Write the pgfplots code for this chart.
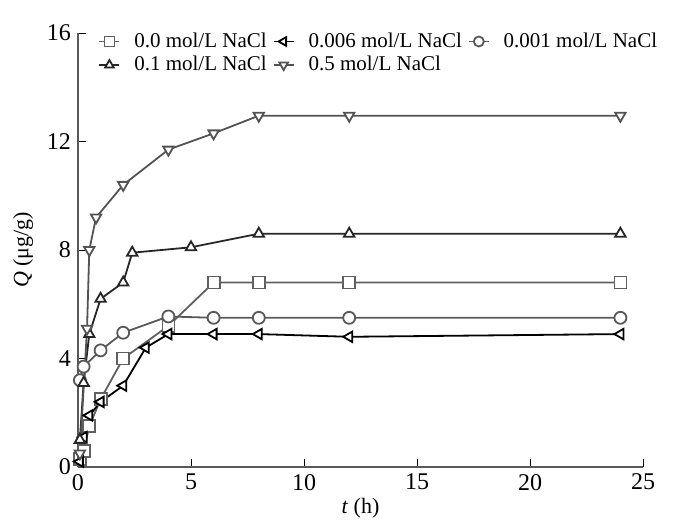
\documentclass[border=0pt]{standalone}
\usepackage{fontspec}
\setmainfont{Liberation Serif}
\usepackage{pgfplots}
\pgfplotsset{compat=1.18}

\begin{document}
\begin{tikzpicture}[font=\fontsize{11}{13}\selectfont]
% fixed page frame, 1 px of the reference = 0.5pt
\path[use as bounding box] (-39pt,-30.5pt) rectangle (311pt,233.5pt);
\begin{axis}[scale only axis, width=282.5pt, height=217pt,
	xmin=0, xmax=25, ymin=0, ymax=16,
	axis lines=left, axis line style={-, gray!70!black, line width=0.8pt},
	xtick={0,5,...,25}, ytick={0,4,...,16},
	tick align=inside, major tick length=4pt, tick style={black},
	/pgf/number format/assume math mode=true,
	tick label style={font=\fontsize{12}{14}\selectfont},
	xlabel={\textit{t} (h)}, ylabel={\textit{Q} (μg/g)},
	xlabel style={yshift=3pt}, ylabel style={yshift=0pt},
	every axis plot/.append style={line width=0.9pt, mark size=3pt},
	legend columns=3, legend cell align=left,
	legend style={draw=none, fill=none, at={(0.025,1.02)}, anchor=north west,
		font=\fontsize{10.5}{12}\selectfont, column sep=5pt, row sep=-1pt,
		/tikz/every even column/.append style={column sep=1pt}},
	legend image code/.code={
		\draw[#1, mark size=2.5pt, mark repeat=2, mark phase=2]
			plot coordinates {(0pt,0pt) (5pt,0pt) (10pt,0pt)};}
	]
% 0.0 mol/L
\addplot[gray!75!black, mark=square*, mark options={fill=white, solid}] coordinates {
	(0.083,0.3) (0.25,0.6) (0.5,1.5) (1,2.5) (2,4.0) (4,5.2) (6,6.8) (8,6.8) (12,6.8) (24,6.8)};
\addlegendentry{0.0 mol/L NaCl}
% 0.006 mol/L
\addplot[black, mark=triangle*, mark options={fill=white, rotate=90}] coordinates {
	(0.083,0.2) (0.25,1.1) (0.5,1.9) (1,2.4) (2,3.0) (3,4.4) (4,4.9) (6,4.9) (8,4.9) (12,4.8) (24,4.9)};
\addlegendentry{0.006 mol/L NaCl}
% 0.001 mol/L
\addplot[gray!70!black, mark=*, mark options={fill=white}] coordinates {
	(0.083,3.2) (0.25,3.7) (1,4.3) (2,4.95) (4,5.55) (6,5.5) (8,5.5) (12,5.5) (24,5.5)};
\addlegendentry{0.001 mol/L NaCl}
% 0.1 mol/L
\addplot[black!85, mark=triangle*, mark options={fill=white}] coordinates {
	(0.083,1.0) (0.25,3.1) (0.5,4.9) (1,6.2) (2,6.8) (2.4,7.9) (5,8.1) (8,8.6) (12,8.6) (24,8.6)};
\addlegendentry{0.1 mol/L NaCl}
% 0.5 mol/L
\addplot[gray!65!black, mark=triangle*, mark options={fill=white, rotate=180}] coordinates {
	(0.083,0.5) (0.4,5.1) (0.5,8.0) (0.8,9.2) (2,10.4) (4,11.7) (6,12.3) (8,12.95) (12,12.95) (24,12.95)};
\addlegendentry{0.5 mol/L NaCl}
\end{axis}
\end{tikzpicture}
\end{document}
